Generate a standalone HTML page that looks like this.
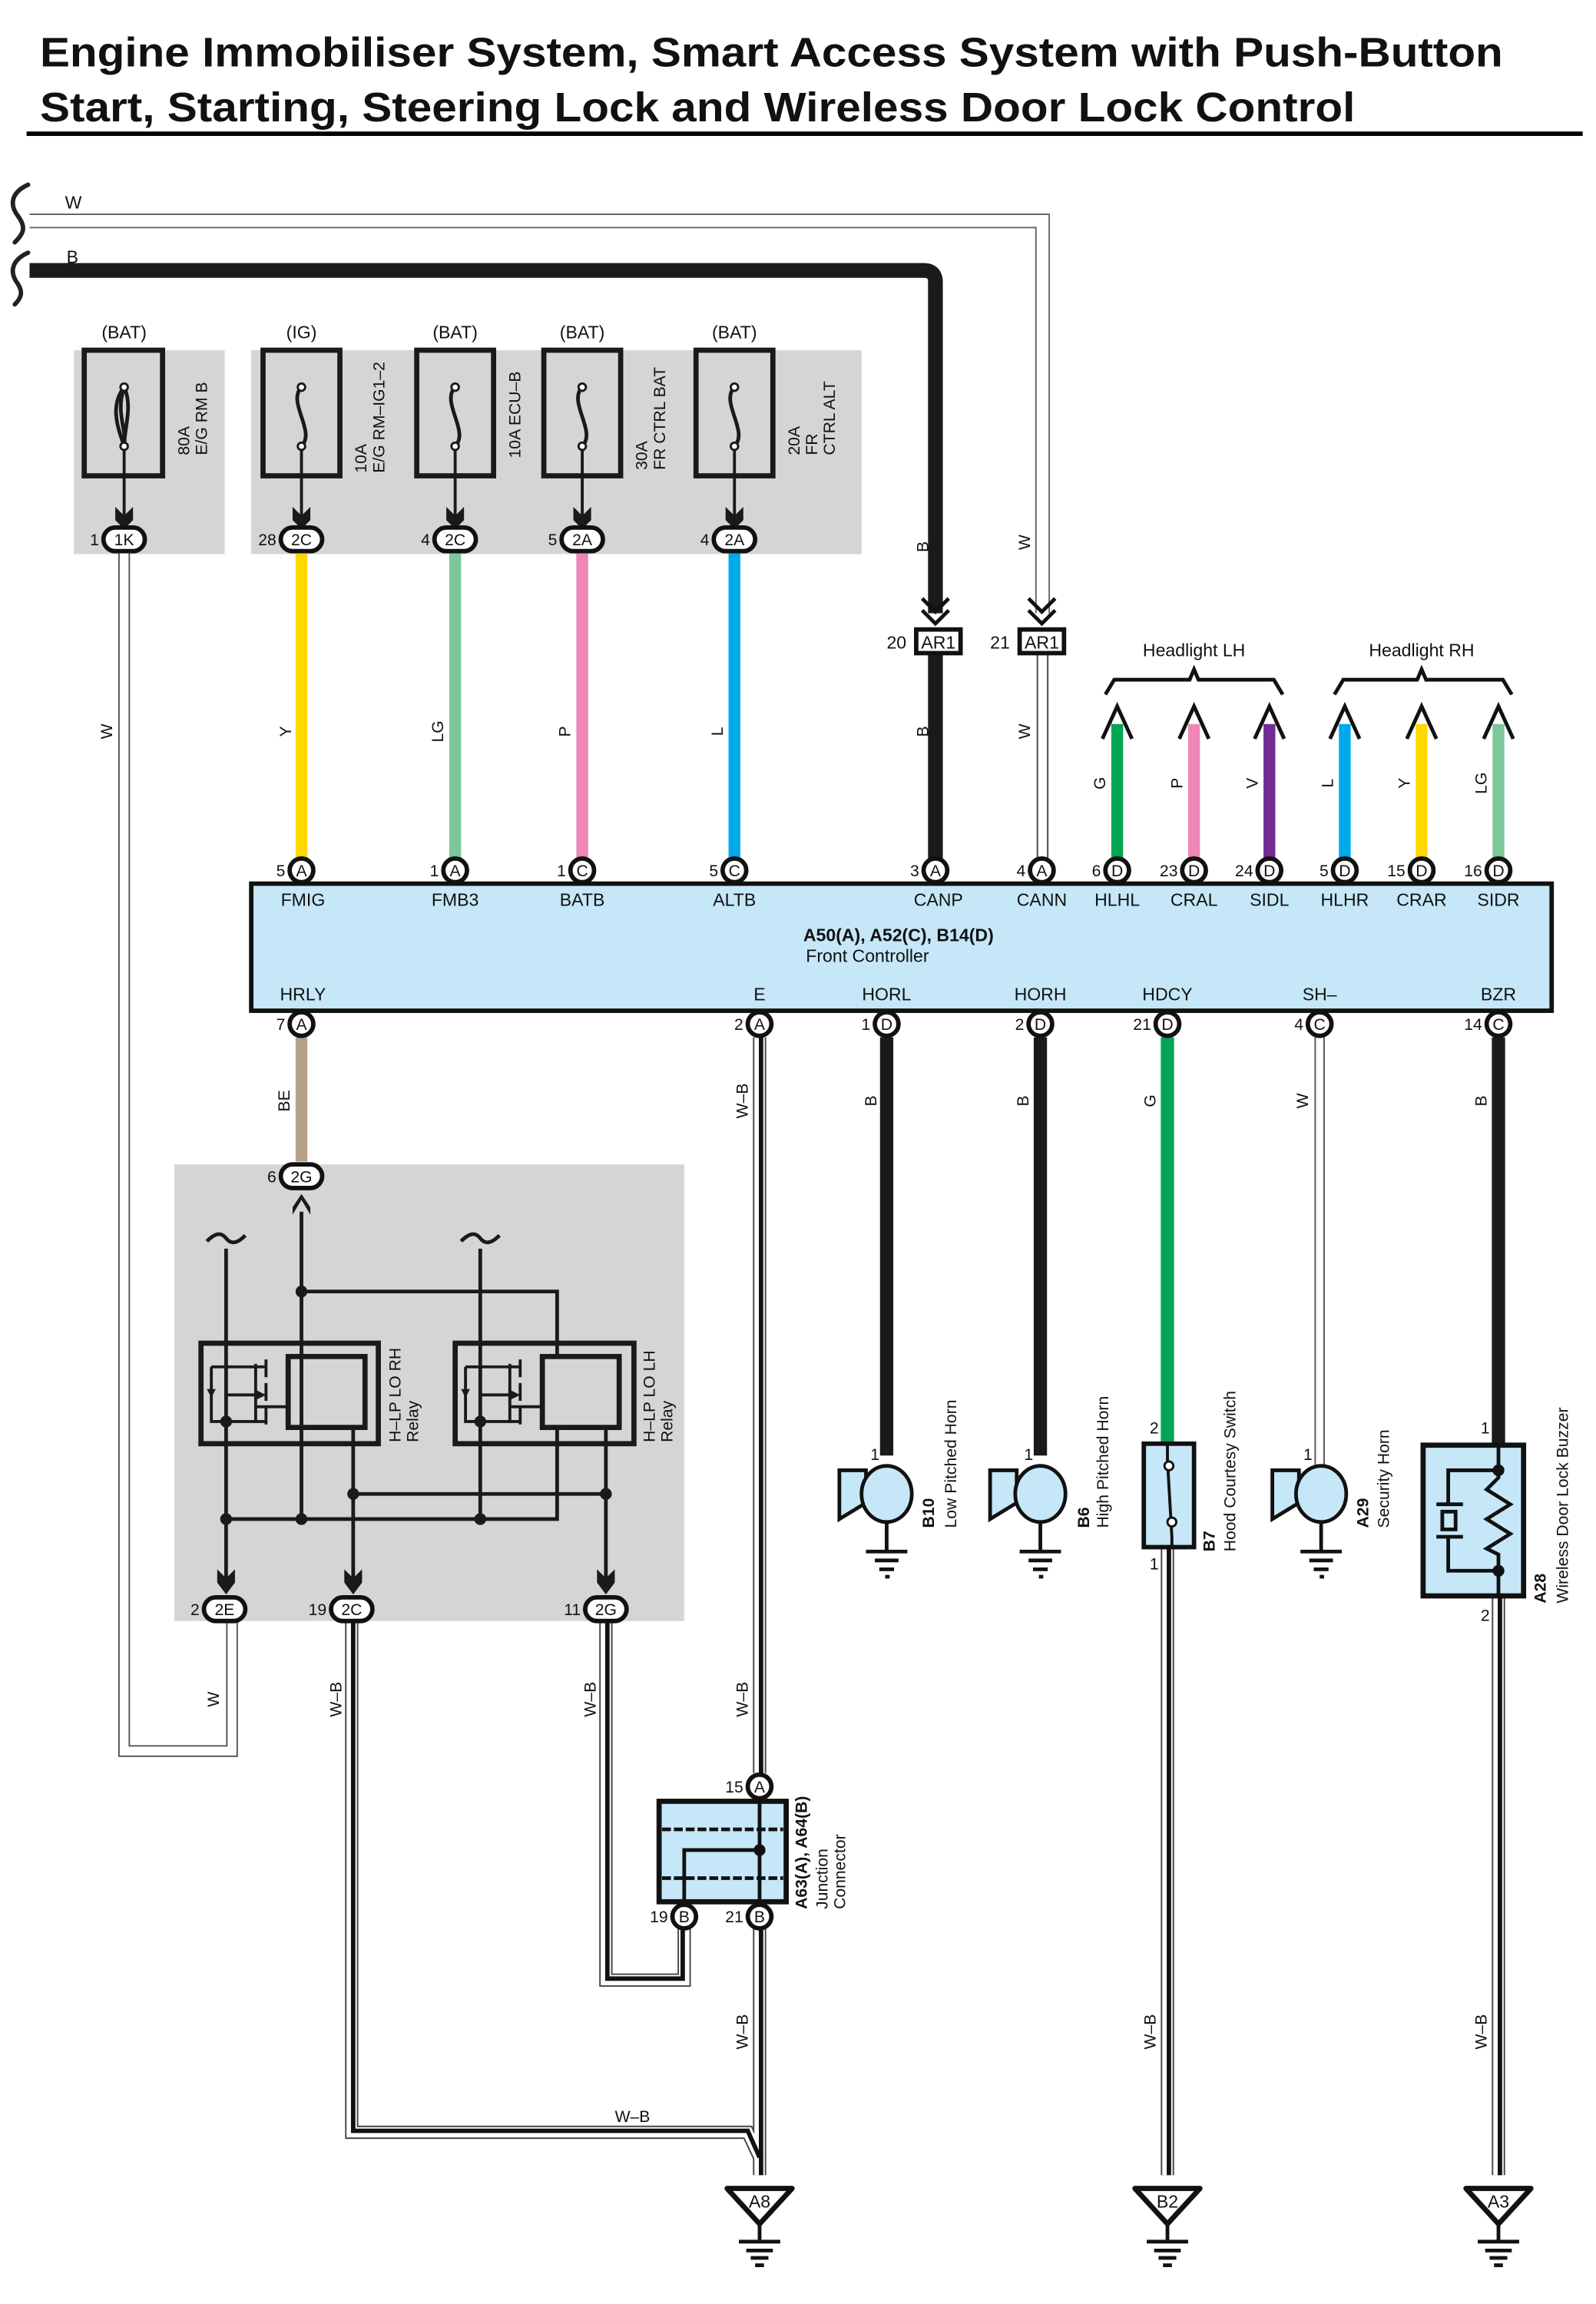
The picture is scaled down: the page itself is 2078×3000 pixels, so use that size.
<!DOCTYPE html>
<html><head><meta charset="utf-8"><style>
html,body{margin:0;padding:0;background:#fff}
svg{display:block}
text{font-family:"Liberation Sans",sans-serif;fill:#111}
.s{font-size:11px}
.m{font-size:12px}
.b{font-weight:bold}
</style></head><body>
<svg width="2078" height="3000" viewBox="0 0 1080 1559.2" xmlns="http://www.w3.org/2000/svg">
<rect width="1080" height="1560" fill="#fff"/>
<!-- title -->
<text x="27" y="45" class="b" font-size="28" textLength="990" lengthAdjust="spacingAndGlyphs">Engine Immobiliser System, Smart Access System with Push-Button</text>
<text x="27" y="82" class="b" font-size="28" textLength="890" lengthAdjust="spacingAndGlyphs">Start, Starting, Steering Lock and Wireless Door Lock Control</text>
<rect x="18" y="89" width="1053" height="3" fill="#000"/>

<!-- gray boxes -->
<rect x="50" y="237" width="102" height="138" fill="#d4d5d7"/>
<rect x="170" y="237" width="413" height="138" fill="#d4d5d7"/>
<rect x="118" y="788" width="345" height="309" fill="#d4d5d7"/>

<!-- top W wire -->
<g fill="none">
<path d="M20 149.5 H705.5 V415" stroke="#666" stroke-width="10"/>
<path d="M20 149.5 H705.5 V415" stroke="#fff" stroke-width="8"/>
<path d="M705.5 440 V588" stroke="#444" stroke-width="8"/>
<path d="M705.5 440 V588" stroke="#fff" stroke-width="6"/>
<!-- B wire -->
<path d="M20 183 H625 Q633 183 633 191 V415" stroke="#1a1a1a" stroke-width="10"/>
<path d="M633 440 V588" stroke="#1a1a1a" stroke-width="10"/>
</g>
<!-- breaks -->
<path d="M31 137 C20 142 18 150 24 158 C30 166 28 170 22 176 M31 183 C20 188 18 196 24 204 C28 210 26 214 22 218" stroke="#222" stroke-width="3" fill="none" stroke-linecap="round" transform="translate(-12,-12) scale(1,1)"/>
<text x="44" y="141" class="m">W</text>
<text x="45" y="178" class="m">B</text>

<!-- AR1 chevrons and boxes -->
<g fill="none" stroke="#111" stroke-width="2.5">
<path d="M624 405 L633 414 L642 405 M624 413 L633 422 L642 413"/>
<path d="M696 405 L705 414 L714 405 M696 413 L705 422 L714 413"/>
</g>
<rect x="620" y="426" width="30" height="16" fill="#fff" stroke="#111" stroke-width="3"/>
<rect x="690" y="426" width="30" height="16" fill="#fff" stroke="#111" stroke-width="3"/>
<text x="635" y="439" class="m" text-anchor="middle">AR1</text>
<text x="705" y="439" class="m" text-anchor="middle">AR1</text>
<text x="600" y="439" class="m">20</text>
<text x="670" y="439" class="m">21</text>
<text transform="translate(628,370) rotate(-90)" class="s" text-anchor="middle">B</text>
<text transform="translate(697,367) rotate(-90)" class="s" text-anchor="middle">W</text>
<text transform="translate(628,495) rotate(-90)" class="s" text-anchor="middle">B</text>
<text transform="translate(697,495) rotate(-90)" class="s" text-anchor="middle">W</text>

<!-- fuses -->
<g fill="#d4d5d7" stroke="#1a1a1a" stroke-width="3.5">
<rect x="57" y="237" width="53" height="85"/>
<rect x="178" y="237" width="52" height="85"/>
<rect x="282" y="237" width="52" height="85"/>
<rect x="368" y="237" width="52" height="85"/>
<rect x="471" y="237" width="52" height="85"/>
</g>
<g fill="none" stroke="#1a1a1a" stroke-width="2.5">
<path d="M84 262 C74 275 80 290 84 302 M84 262 C78 280 86 290 84 302 M84 262 C90 275 84 290 84 302"/>
<path d="M204 262 C194 272 214 292 204 302"/>
<path d="M308 262 C298 272 318 292 308 302"/>
<path d="M394 262 C384 272 404 292 394 302"/>
<path d="M497 262 C487 272 507 292 497 302"/>
</g>
<g fill="#fff" stroke="#1a1a1a" stroke-width="1.5">
<circle cx="84" cy="262" r="2.5"/><circle cx="84" cy="302" r="2.5"/>
<circle cx="204" cy="262" r="2.5"/><circle cx="204" cy="302" r="2.5"/>
<circle cx="308" cy="262" r="2.5"/><circle cx="308" cy="302" r="2.5"/>
<circle cx="394" cy="262" r="2.5"/><circle cx="394" cy="302" r="2.5"/>
<circle cx="497" cy="262" r="2.5"/><circle cx="497" cy="302" r="2.5"/>
</g>
<g stroke="#1a1a1a" stroke-width="2">
<path d="M84 304 V350 M204 304 V350 M308 304 V350 M394 304 V350 M497 304 V350"/>
</g>
<g fill="#1a1a1a">
<path d="M78 343 L84 349 L90 343 L90 352 L84 358 L78 352Z"/>
<path d="M198 343 L204 349 L210 343 L210 352 L204 358 L198 352Z"/>
<path d="M302 343 L308 349 L314 343 L314 352 L308 358 L302 352Z"/>
<path d="M388 343 L394 349 L400 343 L400 352 L394 358 L388 352Z"/>
<path d="M491 343 L497 349 L503 343 L503 352 L497 358 L491 352Z"/>
</g>
<g class="m" text-anchor="middle">
<text x="84" y="229">(BAT)</text><text x="204" y="229">(IG)</text><text x="308" y="229">(BAT)</text><text x="394" y="229">(BAT)</text><text x="497" y="229">(BAT)</text>
</g>
<g class="s">
<text transform="translate(128,308) rotate(-90)">80A</text>
<text transform="translate(140,308) rotate(-90)">E/G RM B</text>
<text transform="translate(248,320) rotate(-90)">10A</text>
<text transform="translate(260,320) rotate(-90)">E/G RM–IG1–2</text>
<text transform="translate(352,310) rotate(-90)">10A ECU–B</text>
<text transform="translate(438,318) rotate(-90)">30A</text>
<text transform="translate(450,318) rotate(-90)">FR CTRL BAT</text>
<text transform="translate(541,308) rotate(-90)">20A</text>
<text transform="translate(553,308) rotate(-90)">FR</text>
<text transform="translate(565,308) rotate(-90)">CTRL ALT</text>
</g>

<!-- colored wires top -->
<g stroke-width="8">
<path d="M204 373 V582" stroke="#ffd800"/>
<path d="M308 373 V582" stroke="#7dc79a"/>
<path d="M394 373 V582" stroke="#ee86b6"/>
<path d="M497 373 V582" stroke="#00aaea"/>
</g>
<!-- W from 1K -->
<path d="M84 373 V1185 H157 V1097" fill="none" stroke="#555" stroke-width="8"/>
<path d="M84 373 V1185 H157 V1097" fill="none" stroke="#fff" stroke-width="6"/>
<g class="s">
<text transform="translate(76,495) rotate(-90)" text-anchor="middle">W</text>
<text transform="translate(197,495) rotate(-90)" text-anchor="middle">Y</text>
<text transform="translate(300,495) rotate(-90)" text-anchor="middle">LG</text>
<text transform="translate(386,495) rotate(-90)" text-anchor="middle">P</text>
<text transform="translate(489,495) rotate(-90)" text-anchor="middle">L</text>
<text transform="translate(148,1150) rotate(-90)" text-anchor="middle">W</text>
</g>

<!-- headlight arrows -->
<g stroke-width="8">
<path d="M756 490 V582" stroke="#00a651"/>
<path d="M808 490 V582" stroke="#ee86b6"/>
<path d="M859 490 V582" stroke="#702c91"/>
<path d="M910 490 V582" stroke="#00aaea"/>
<path d="M962 490 V582" stroke="#ffd800"/>
<path d="M1014 490 V582" stroke="#7dc79a"/>
</g>
<g fill="none" stroke="#111" stroke-width="2.5">
<path d="M746 500 L756 478 L766 500"/><path d="M798 500 L808 478 L818 500"/><path d="M849 500 L859 478 L869 500"/>
<path d="M900 500 L910 478 L920 500"/><path d="M952 500 L962 478 L972 500"/><path d="M1004 500 L1014 478 L1024 500"/>
<path d="M748 470 L754 460 H805 L808 453 L811 460 H862 L868 470"/>
<path d="M903 470 L909 460 H959 L962 453 L965 460 H1017 L1023 470"/>
</g>
<text x="808" y="444" class="m" text-anchor="middle">Headlight LH</text>
<text x="962" y="444" class="m" text-anchor="middle">Headlight RH</text>
<g class="s" text-anchor="middle">
<text transform="translate(748,530) rotate(-90)">G</text>
<text transform="translate(800,530) rotate(-90)">P</text>
<text transform="translate(851,530) rotate(-90)">V</text>
<text transform="translate(902,530) rotate(-90)">L</text>
<text transform="translate(954,530) rotate(-90)">Y</text>
<text transform="translate(1006,530) rotate(-90)">LG</text>
</g>

<!-- controller box -->
<rect x="170" y="598" width="880" height="86" fill="#c6e7f8" stroke="#111" stroke-width="3"/>
<g class="m" text-anchor="middle">
<text x="205" y="613">FMIG</text><text x="308" y="613">FMB3</text><text x="394" y="613">BATB</text><text x="497" y="613">ALTB</text>
<text x="635" y="613">CANP</text><text x="705" y="613">CANN</text><text x="756" y="613">HLHL</text><text x="808" y="613">CRAL</text>
<text x="859" y="613">SIDL</text><text x="910" y="613">HLHR</text><text x="962" y="613">CRAR</text><text x="1014" y="613">SIDR</text>
<text x="205" y="677">HRLY</text><text x="514" y="677">E</text><text x="600" y="677">HORL</text><text x="704" y="677">HORH</text>
<text x="790" y="677">HDCY</text><text x="893" y="677">SH–</text><text x="1014" y="677">BZR</text>
<text x="608" y="637" font-weight="bold">A50(A), A52(C), B14(D)</text>
<text x="587" y="651">Front Controller</text>
</g>

<!-- bottom wires -->
<path d="M204 702 V786" stroke="#b5a08a" stroke-width="8"/>
<path d="M600 702 V985" stroke="#1a1a1a" stroke-width="9"/>
<path d="M704 702 V985" stroke="#1a1a1a" stroke-width="9"/>
<path d="M790 702 V976" stroke="#00a651" stroke-width="9"/>
<path d="M893 702 V993" stroke="#555" stroke-width="7"/><path d="M893 702 V993" stroke="#fff" stroke-width="5"/>
<path d="M1014 702 V978" stroke="#1a1a1a" stroke-width="9"/>
<!-- W-B wires -->
<g fill="none">
<g stroke="#444" stroke-width="9">
<path d="M514 702 V1200"/><path d="M514 1305 V1472"/>
<path d="M238 1097 V1443 H506 L514 1460"/>
<path d="M410 1097 V1340 H463 V1305"/>
<path d="M790 1047 V1472"/><path d="M1014 1080 V1472"/>
</g>
<g stroke="#fff" stroke-width="7">
<path d="M514 702 V1200"/><path d="M514 1305 V1472"/>
<path d="M238 1097 V1443 H506 L514 1460"/>
<path d="M410 1097 V1340 H463 V1305"/>
<path d="M790 1047 V1472"/><path d="M1014 1080 V1472"/>
</g>
<g stroke="#111" stroke-width="3">
<path d="M515 702 V1200"/><path d="M515 1305 V1472"/>
<path d="M239 1097 V1442 H506 L514 1460"/>
<path d="M411 1097 V1339 H462 V1305"/>
<path d="M791 1047 V1472"/><path d="M1015 1080 V1472"/>
</g>
</g>
<g class="s" text-anchor="middle">
<text transform="translate(196,745) rotate(-90)">BE</text>
<text transform="translate(506,745) rotate(-90)">W–B</text>
<text transform="translate(593,745) rotate(-90)">B</text>
<text transform="translate(696,745) rotate(-90)">B</text>
<text transform="translate(782,745) rotate(-90)">G</text>
<text transform="translate(885,745) rotate(-90)">W</text>
<text transform="translate(1006,745) rotate(-90)">B</text>
<text transform="translate(231,1150) rotate(-90)">W–B</text>
<text transform="translate(403,1150) rotate(-90)">W–B</text>
<text transform="translate(506,1150) rotate(-90)">W–B</text>
<text transform="translate(506,1375) rotate(-90)">W–B</text>
<text transform="translate(782,1375) rotate(-90)">W–B</text>
<text transform="translate(1006,1375) rotate(-90)">W–B</text>
<text x="428" y="1436">W–B</text>
</g>

<!-- relay internals -->
<g fill="none" stroke="#1a1a1a" stroke-width="2.5">
<path d="M204 820 V1028"/>
<path d="M204 874 H377 V918"/>
<path d="M153 845 V1070"/><path d="M325 845 V1028"/>
<path d="M153 1028 H377 V967"/>
<path d="M239 967 V1070"/><path d="M410 967 V1070"/>
<path d="M239 1011 H410"/>
<path d="M140 840 C146 834 150 834 153 838 C156 842 160 842 166 836"/>
<path d="M312 840 C318 834 322 834 325 838 C328 842 332 842 338 836"/>
</g>
<g fill="none" stroke="#1a1a1a" stroke-width="3.5">
<rect x="136" y="909" width="120" height="68"/>
<rect x="308" y="909" width="121" height="68"/>
<rect x="195" y="918" width="52" height="48"/>
<rect x="367" y="918" width="52" height="48"/>
</g>
<g fill="none" stroke="#1a1a1a" stroke-width="2">
<path d="M180 920 V932 M180 936 V948 M180 952 V964 M173 923 V963 M173 952 H195"/>
<path d="M143 925 H180 M153 944 H176 M143 925 V962 H180"/>
<path d="M352 920 V932 M352 936 V948 M352 952 V964 M345 923 V963 M345 952 H367"/>
<path d="M315 925 H352 M325 944 H348 M315 925 V962 H352"/>
</g>
<g fill="#1a1a1a">
<path d="M140 940 L146 940 L143 946Z"/><path d="M312 940 L318 940 L315 946Z"/>
<path d="M172 940 L180 944 L172 948Z"/><path d="M344 940 L352 944 L344 948Z"/>
<circle cx="204" cy="874" r="4"/><circle cx="153" cy="962" r="4"/><circle cx="325" cy="962" r="4"/>
<circle cx="153" cy="1028" r="4"/><circle cx="204" cy="1028" r="4"/><circle cx="325" cy="1028" r="4"/>
<circle cx="239" cy="1011" r="4"/><circle cx="410" cy="1011" r="4"/>
<path d="M198 822 L204 812 L210 822 L210 817 L204 808 L198 817Z"/>
<path d="M147 1062 L153 1068 L159 1062 L159 1071 L153 1079 L147 1071Z"/>
<path d="M233 1062 L239 1068 L245 1062 L245 1071 L239 1079 L233 1071Z"/>
<path d="M404 1062 L410 1068 L416 1062 L416 1071 L410 1079 L404 1071Z"/>
</g>
<g class="s">
<text transform="translate(271,976) rotate(-90)">H–LP LO RH</text>
<text transform="translate(283,976) rotate(-90)">Relay</text>
<text transform="translate(443,976) rotate(-90)">H–LP LO LH</text>
<text transform="translate(455,976) rotate(-90)">Relay</text>
</g>

<!-- junction connector -->
<rect x="446" y="1219" width="86" height="68" fill="#c6e7f8" stroke="#111" stroke-width="3.5"/>
<g stroke="#111" stroke-width="2.5" fill="none">
<path d="M448 1238 H530 M448 1271 H530" stroke-dasharray="6 2"/>
<path d="M514 1219 V1287 M463 1287 V1252 H514"/>
</g>
<circle cx="514" cy="1252" r="4" fill="#111"/>
<g class="s">
<text transform="translate(546,1292) rotate(-90)" font-weight="bold">A63(A), A64(B)</text>
<text transform="translate(560,1292) rotate(-90)">Junction</text>
<text transform="translate(572,1292) rotate(-90)">Connector</text>
</g>

<!-- horns -->
<g stroke="#111" stroke-width="2.5" fill="#c6e7f8">
<path d="M568 995 H586 L586 1017 L568 1028Z"/>
<ellipse cx="600" cy="1011" rx="17" ry="19"/>
<path d="M670 995 H688 L688 1017 L670 1028Z"/>
<ellipse cx="704" cy="1011" rx="17" ry="19"/>
<path d="M861 995 H879 L879 1017 L861 1028Z"/>
<ellipse cx="894" cy="1011" rx="17" ry="19"/>
</g>
<g stroke="#111" stroke-width="2.5">
<path d="M600 1030 V1050 M586 1050 H614 M592 1056 H608 M595 1062 H605 M599 1067 H602"/>
<path d="M704 1030 V1050 M690 1050 H718 M696 1056 H712 M699 1062 H709 M703 1067 H706"/>
<path d="M894 1030 V1050 M880 1050 H908 M886 1056 H902 M889 1062 H899 M893 1067 H896"/>
</g>
<!-- switch -->
<rect x="774" y="977" width="34" height="70" fill="#c6e7f8" stroke="#111" stroke-width="3"/>
<path d="M790 977 V988 L793 1040 V1047" stroke="#111" stroke-width="2" fill="none"/>
<circle cx="791" cy="992" r="3" fill="#fff" stroke="#111" stroke-width="1.5"/>
<circle cx="793" cy="1030" r="3" fill="#fff" stroke="#111" stroke-width="1.5"/>
<!-- buzzer -->
<rect x="963" y="978" width="68" height="102" fill="#c6e7f8" stroke="#111" stroke-width="3.5"/>
<g stroke="#111" stroke-width="2.5" fill="none">
<path d="M1014 978 V1000 L1006 1008 L1022 1018 L1006 1028 L1022 1038 L1006 1048 L1014 1052 V1080"/>
<path d="M1014 995 H980 V1018 M972 1018 H990 M972 1040 H990 M980 1040 V1063 H1014"/>
<rect x="976" y="1023" width="9" height="12"/>
</g>
<circle cx="1014" cy="995" r="4" fill="#111"/><circle cx="1014" cy="1063" r="4" fill="#111"/>
<g class="s">
<text x="589" y="988">1</text><text x="693" y="988">1</text><text x="778" y="970">2</text><text x="778" y="1062">1</text>
<text x="882" y="988">1</text><text x="1002" y="970">1</text><text x="1002" y="1097">2</text>
<text transform="translate(632,1034) rotate(-90)" font-weight="bold">B10</text>
<text transform="translate(647,1034) rotate(-90)">Low Pitched Horn</text>
<text transform="translate(737,1034) rotate(-90)" font-weight="bold">B6</text>
<text transform="translate(750,1034) rotate(-90)">High Pitched Horn</text>
<text transform="translate(822,1050) rotate(-90)" font-weight="bold">B7</text>
<text transform="translate(836,1050) rotate(-90)">Hood Courtesy Switch</text>
<text transform="translate(926,1034) rotate(-90)" font-weight="bold">A29</text>
<text transform="translate(940,1034) rotate(-90)">Security Horn</text>
<text transform="translate(1046,1085) rotate(-90)" font-weight="bold">A28</text>
<text transform="translate(1061,1085) rotate(-90)">Wireless Door Lock Buzzer</text>
</g>

<!-- grounds -->
<g stroke="#111" stroke-width="3.5" fill="#fff" stroke-linejoin="round">
<path d="M492 1481 H536 L514 1505Z"/>
<path d="M768 1481 H812 L790 1505Z"/>
<path d="M992 1481 H1036 L1014 1505Z"/>
</g>
<g stroke="#111" stroke-width="2.5">
<path d="M514 1505 V1517 M500 1517 H528 M505 1523 H523 M508 1528 H520 M511 1533 H517"/>
<path d="M790 1505 V1517 M776 1517 H804 M781 1523 H799 M784 1528 H796 M787 1533 H793"/>
<path d="M1014 1505 V1517 M1000 1517 H1028 M1005 1523 H1023 M1008 1528 H1020 M1011 1533 H1017"/>
</g>
<g class="m" text-anchor="middle">
<text x="514" y="1494">A8</text><text x="790" y="1494">B2</text><text x="1014" y="1494">A3</text>
</g>

<!-- pills (gray box connectors) -->
<g fill="#fff" stroke="#111" stroke-width="3">
<rect x="70" y="357" width="28" height="16" rx="8"/>
<rect x="190" y="357" width="28" height="16" rx="8"/>
<rect x="294" y="357" width="28" height="16" rx="8"/>
<rect x="380" y="357" width="28" height="16" rx="8"/>
<rect x="483" y="357" width="28" height="16" rx="8"/>
<rect x="190" y="788" width="28" height="16" rx="8"/>
<rect x="138" y="1081" width="28" height="16" rx="8"/>
<rect x="224" y="1081" width="28" height="16" rx="8"/>
<rect x="396" y="1081" width="28" height="16" rx="8"/>
</g>
<g class="s" text-anchor="middle">
<text x="84" y="369">1K</text><text x="204" y="369">2C</text><text x="308" y="369">2C</text><text x="394" y="369">2A</text><text x="497" y="369">2A</text>
<text x="204" y="800">2G</text><text x="152" y="1093">2E</text><text x="238" y="1093">2C</text><text x="410" y="1093">2G</text>
</g>
<g class="s" text-anchor="end">
<text x="67" y="369">1</text><text x="187" y="369">28</text><text x="291" y="369">4</text><text x="377" y="369">5</text><text x="480" y="369">4</text>
<text x="187" y="800">6</text><text x="135" y="1093">2</text><text x="221" y="1093">19</text><text x="393" y="1093">11</text>
</g>

<!-- round pins -->
<g fill="#fff" stroke="#111" stroke-width="3">
<circle cx="204" cy="589" r="8"/><circle cx="308" cy="589" r="8"/><circle cx="394" cy="589" r="8"/><circle cx="497" cy="589" r="8"/>
<circle cx="633" cy="589" r="8"/><circle cx="705" cy="589" r="8"/><circle cx="756" cy="589" r="8"/><circle cx="808" cy="589" r="8"/>
<circle cx="859" cy="589" r="8"/><circle cx="910" cy="589" r="8"/><circle cx="962" cy="589" r="8"/><circle cx="1014" cy="589" r="8"/>
<circle cx="204" cy="693" r="8"/><circle cx="514" cy="693" r="8"/><circle cx="600" cy="693" r="8"/><circle cx="704" cy="693" r="8"/>
<circle cx="790" cy="693" r="8"/><circle cx="893" cy="693" r="8"/><circle cx="1014" cy="693" r="8"/>
<circle cx="514" cy="1209" r="8"/><circle cx="463" cy="1297" r="8"/><circle cx="514" cy="1297" r="8"/>
</g>
<g class="s" text-anchor="middle">
<text x="204" y="593">A</text><text x="308" y="593">A</text><text x="394" y="593">C</text><text x="497" y="593">C</text>
<text x="633" y="593">A</text><text x="705" y="593">A</text><text x="756" y="593">D</text><text x="808" y="593">D</text>
<text x="859" y="593">D</text><text x="910" y="593">D</text><text x="962" y="593">D</text><text x="1014" y="593">D</text>
<text x="204" y="697">A</text><text x="514" y="697">A</text><text x="600" y="697">D</text><text x="704" y="697">D</text>
<text x="790" y="697">D</text><text x="893" y="697">C</text><text x="1014" y="697">C</text>
<text x="514" y="1213">A</text><text x="463" y="1301">B</text><text x="514" y="1301">B</text>
</g>
<g class="s" text-anchor="end">
<text x="193" y="593">5</text><text x="297" y="593">1</text><text x="383" y="593">1</text><text x="486" y="593">5</text>
<text x="622" y="593">3</text><text x="694" y="593">4</text><text x="745" y="593">6</text><text x="797" y="593">23</text>
<text x="848" y="593">24</text><text x="899" y="593">5</text><text x="951" y="593">15</text><text x="1003" y="593">16</text>
<text x="193" y="697">7</text><text x="503" y="697">2</text><text x="589" y="697">1</text><text x="693" y="697">2</text>
<text x="779" y="697">21</text><text x="882" y="697">4</text><text x="1003" y="697">14</text>
<text x="503" y="1213">15</text><text x="452" y="1301">19</text><text x="503" y="1301">21</text>
</g>
</svg>
</body></html>
